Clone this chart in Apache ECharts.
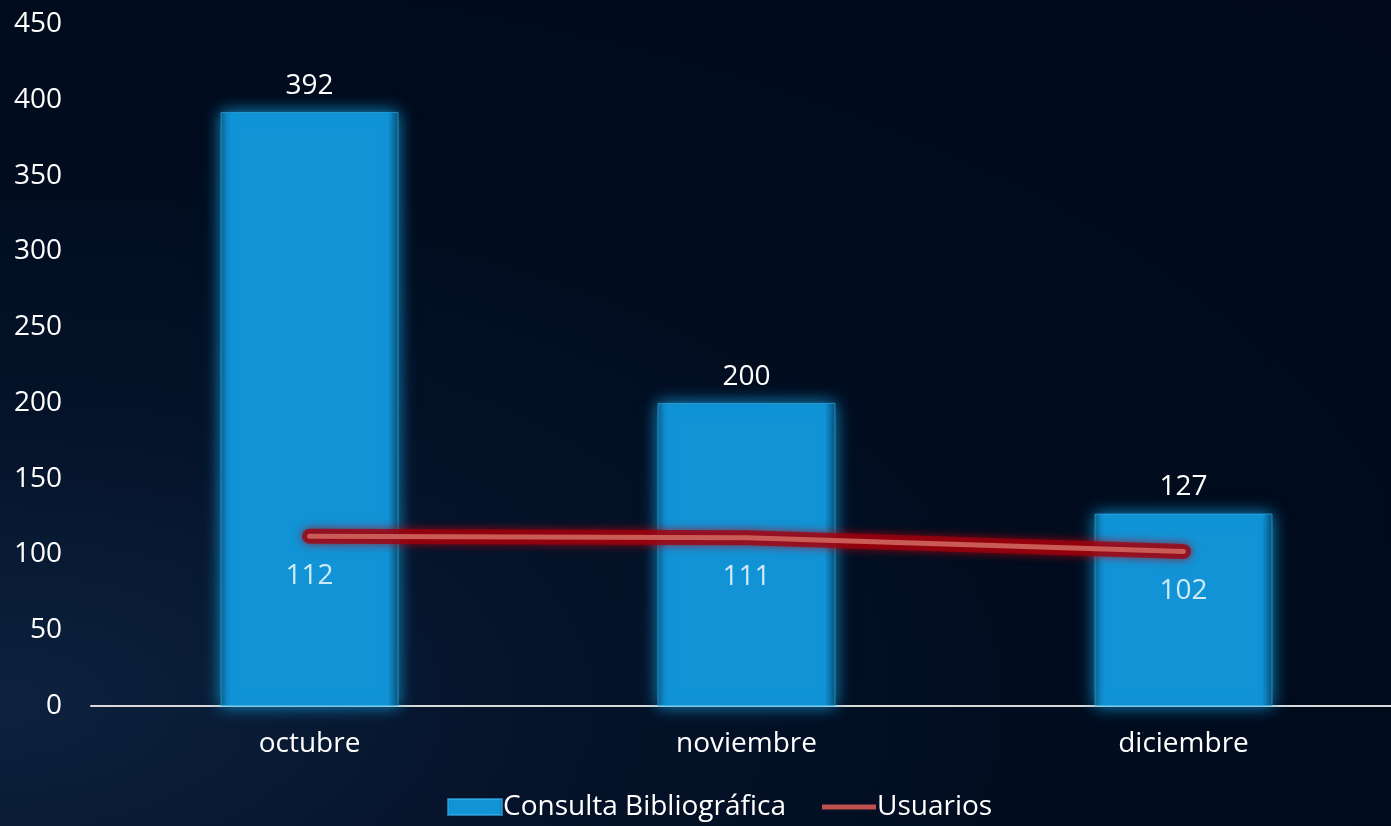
<!DOCTYPE html>
<html>
<head>
<meta charset="utf-8">
<script src="https://cdn.jsdelivr.net/npm/echarts@6/dist/echarts.min.js"></script>
<style>
  html, body { margin: 0; padding: 0; overflow: hidden; }
  body {
    width: 1391px;
    height: 826px;
    background: radial-gradient(ellipse at 0% 85%, #0d223e 0%, #05132a 28%, #010c1e 55%, #000a1a 100%);
  }
  #main { width: 1402px; height: 826px; }
</style>
</head>
<body>
<div id="main"></div>
<script>
// datos
var months = ['octubre', 'noviembre', 'diciembre']
var consultas = [392, 200, 127]
var usuarios = [112, 111, 102]

var chart = echarts.init(document.getElementById('main'))
var font = '"Open Sans", "Noto Sans", sans-serif'

chart.setOption({
  backgroundColor: 'transparent',
  textStyle: { fontFamily: font },
  grid: {
    left: 91,
    top: 24,
    right: 0,
    bottom: 120
  },
  legend: {
    bottom: 0,
    left: 442,
    itemGap: 36,
    itemWidth: 54,
    itemHeight: 16,
    textStyle: { color: '#fff', fontSize: 28, fontFamily: font, padding: [0, 0, 0, -4] },
    data: [
      { name: 'Consulta Bibliográfica', icon: 'rect' },
      { name: 'Usuarios', icon: 'path://M0,0 L54,0 L54,5 L0,5 Z' }
    ]
  },
  xAxis: {
    type: 'category',
    data: months,
    axisLine: { lineStyle: { color: '#d9d9d9', width: 2 } },
    axisTick: { show: false },
    axisLabel: { color: '#fff', fontSize: 28, margin: 24, fontFamily: font }
  },
  yAxis: {
    type: 'value',
    min: 0,
    max: 450,
    interval: 50,
    splitLine: { show: false },
    axisLine: { show: false },
    axisTick: { show: false },
    axisLabel: { color: '#fff', fontSize: 28, margin: 29, fontFamily: font }
  },
  series: [
    {
      name: 'Consulta Bibliográfica',
      type: 'bar',
      data: consultas,
      barWidth: 178,
      itemStyle: {
        color: new echarts.graphic.LinearGradient(0, 0, 1, 0, [
          { offset: 0, color: '#0a5d87' },
          { offset: 0.035, color: '#0f86c4' },
          { offset: 0.06, color: '#1193d6' },
          { offset: 0.94, color: '#1193d6' },
          { offset: 0.965, color: '#0d78b0' },
          { offset: 1, color: '#084e72' }
        ]),
        borderColor: 'rgba(60, 190, 250, 0.55)',
        borderWidth: 1,
        shadowColor: 'rgba(25, 165, 230, 0.85)',
        shadowBlur: 16
      },
      label: {
        show: true,
        position: 'top',
        distance: 12,
        color: '#fff',
        fontSize: 28,
        fontFamily: font
      }
    },
    {
      // halo rojo de la línea
      name: 'UsuariosHalo',
      type: 'line',
      data: usuarios,
      symbol: 'none',
      silent: true,
      lineStyle: {
        color: 'rgba(160, 0, 12, 0.75)',
        width: 15,
        cap: 'round',
        shadowColor: 'rgba(190, 0, 12, 1)',
        shadowBlur: 10
      }
    },
    {
      name: 'Usuarios',
      type: 'line',
      data: usuarios,
      symbol: 'none',
      itemStyle: { color: '#c0504d' },
      lineStyle: {
        color: '#c95c57',
        width: 5,
        cap: 'round'
      }
    },
    {
      // etiquetas de usuarios
      name: 'UsuariosEtiquetas',
      type: 'scatter',
      data: usuarios,
      symbolSize: 1,
      itemStyle: { color: 'rgba(0,0,0,0)' },
      silent: true,
      label: {
        show: true,
        position: 'bottom',
        distance: 25,
        color: '#fff',
        fontSize: 28,
        fontFamily: font
      }
    }
  ]
})
</script>
</body>
</html>
